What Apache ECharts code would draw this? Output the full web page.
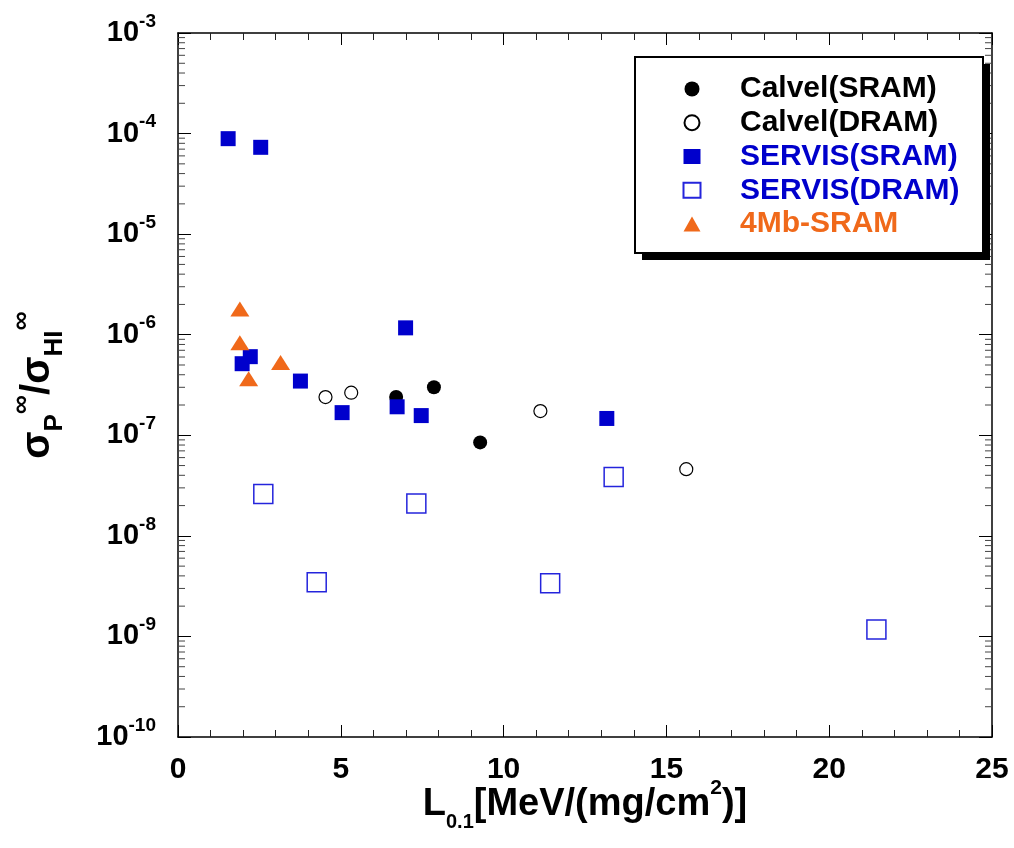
<!DOCTYPE html>
<html>
<head>
<meta charset="utf-8">
<script src="https://cdn.jsdelivr.net/npm/echarts@6/dist/echarts.min.js"></script>
<style>
html,body{margin:0;padding:0;background:#fff;}
#chart{width:1014px;height:848px;}
</style>
</head>
<body>
<div id="chart"></div>
<script>
// ---- Data (x = L0.1 [MeV/(mg/cm2)], y = sigmaP/sigmaHI) ----
const calvelSram = [[6.70, 2.4e-7], [7.86, 3.0e-7], [9.28, 8.5e-8]];
const calvelDram = [[4.53, 2.4e-7], [5.32, 2.65e-7], [11.13, 1.74e-7], [15.61, 4.6e-8]];
const servisSram = [[1.54, 8.9e-5], [2.54, 7.3e-5], [2.22, 6.05e-7], [1.97, 5.15e-7], [3.76, 3.46e-7],
                    [5.04, 1.68e-7], [6.73, 1.92e-7], [7.47, 1.57e-7], [6.99, 1.17e-6], [13.17, 1.47e-7]];
const servisDram = [[2.62, 2.6e-8], [4.26, 3.45e-9], [7.32, 2.1e-8], [11.43, 3.37e-9], [13.38, 3.85e-8], [21.45, 1.17e-9]];
const sram4Mb    = [[1.90, 1.8e-6], [1.90, 8.3e-7], [2.17, 3.65e-7], [3.15, 5.3e-7]];

const seriesNames = ['Calvel(SRAM)', 'Calvel(DRAM)', 'SERVIS(SRAM)', 'SERVIS(DRAM)', '4Mb-SRAM'];
const xTicks = [0, 5, 10, 15, 20, 25];
const yDecadeExponents = [-10, -9, -8, -7, -6, -5, -4, -3];
const minorMultipliers = [2, 3, 4, 5, 6, 7, 8, 9];

const BLUE = '#0000cc';
const BLUE_OPEN = '#2424dc';
const ORANGE = '#f0691a';

// minor tick positions for the log axis (axis decoration only)
const minorTickVals = [];
for (let i = 0; i < yDecadeExponents.length - 1; i++) {
  for (const m of minorMultipliers) minorTickVals.push([xTicks[0], m * Math.pow(10, yDecadeExponents[i])]);
}

const FONT = '"Liberation Sans", Arial, sans-serif';

const chart = echarts.init(document.getElementById('chart'), null, {renderer: 'canvas'});

const yLabelRich = {
  b: {fontFamily: FONT, fontWeight: 'bold', fontSize: 29, lineHeight: 42, color: '#000', verticalAlign: 'middle'},
  s: {fontFamily: FONT, fontWeight: 'bold', fontSize: 19, lineHeight: 20, color: '#000', verticalAlign: 'top'}
};

function makeX(pos, showLabel) {
  return {
    type: 'value', position: pos, min: xTicks[0], max: xTicks[xTicks.length - 1], interval: 5,
    axisLine: {show: true, onZero: false, lineStyle: {color: '#000', width: 1.5}},
    axisTick: {show: true, inside: true, length: 12, lineStyle: {color: '#000', width: 1}},
    minorTick: {show: true, splitNumber: 5, length: 7, lineStyle: {color: '#222', width: 1}},
    splitLine: {show: false}, minorSplitLine: {show: false},
    axisLabel: {show: showLabel, margin: 18, fontFamily: FONT, fontWeight: 'bold', fontSize: 30, color: '#000'},
    name: showLabel ? '{m|L}{sub|0.1}{m|[MeV/(mg/cm}{sup|2}{m|)]}' : '',
    nameLocation: 'middle', nameGap: 41, nameMoveOverlap: false,
    nameTextStyle: {
      rich: {
        m: {fontFamily: FONT, fontWeight: 'bold', fontSize: 38, lineHeight: 54, verticalAlign: 'middle', color: '#000'},
        sub: {fontFamily: FONT, fontWeight: 'bold', fontSize: 20, lineHeight: 20, verticalAlign: 'bottom', color: '#000'},
        sup: {fontFamily: FONT, fontWeight: 'bold', fontSize: 21, lineHeight: 21, verticalAlign: 'top', color: '#000'}
      }
    }
  };
}

function makeY(pos, showLabel) {
  return {
    type: 'log', logBase: 10, position: pos,
    min: Math.pow(10, yDecadeExponents[0]), max: Math.pow(10, yDecadeExponents[yDecadeExponents.length - 1]),
    interval: 1,
    axisLine: {show: true, onZero: false, lineStyle: {color: '#000', width: 1.5}},
    axisTick: {show: true, inside: true, length: 13, lineStyle: {color: '#000', width: 1}},
    splitLine: {show: false},
    axisLabel: {
      show: showLabel, margin: 22,
      formatter: function (v) { return '{b|10}{s|' + Math.round(Math.log10(v)) + '}'; },
      rich: yLabelRich
    },
    name: showLabel ? '{m|σ}{sub|P}{sup|∞}{m|/σ}{sub|HI}{sup|∞}' : '',
    nameLocation: 'middle', nameGap: 110, nameRotate: 90, nameMoveOverlap: false,
    nameTextStyle: {
      rich: {
        m: {fontFamily: FONT, fontWeight: 'bold', fontSize: 40, lineHeight: 60, verticalAlign: 'middle', color: '#000'},
        sub: {fontFamily: FONT, fontWeight: 'bold', fontSize: 26, lineHeight: 26, verticalAlign: 'bottom', color: '#000'},
        sup: {fontFamily: FONT, fontWeight: 'bold', fontSize: 27, lineHeight: 27, verticalAlign: 'top', color: '#000'}
      }
    }
  };
}

const option = {
  backgroundColor: '#fff',
  animation: false,
  grid: {left: 177, right: 22, top: 33, bottom: 111, containLabel: false},
  xAxis: [makeX('bottom', true), makeX('top', false)],
  yAxis: [makeY('left', true), makeY('right', false)],
  graphic: [
    {type: 'rect', z: 3, shape: {x: 642, y: 64, width: 348, height: 196}, style: {fill: '#000'}},
    {type: 'rect', z: 3, shape: {x: 635, y: 57, width: 348, height: 196}, style: {fill: '#fff', stroke: '#000', lineWidth: 2}}
  ],
  legend: {
    z: 5,
    orient: 'vertical', left: 635, top: 58,
    padding: [14, 30, 14, 47.5],
    itemWidth: 17, itemHeight: 15, itemGap: 0,
    backgroundColor: 'transparent', borderWidth: 0,
    textStyle: {fontFamily: FONT, fontWeight: 'bold', fontSize: 30, lineHeight: 33.8, padding: [0, 0, 0, 34.5]},
    data: [
      {name: seriesNames[0], textStyle: {color: '#000'}},
      {name: seriesNames[1], textStyle: {color: '#000'}},
      {name: seriesNames[2], textStyle: {color: BLUE}},
      {name: seriesNames[3], textStyle: {color: BLUE}},
      {name: seriesNames[4], textStyle: {color: ORANGE}}
    ],
    selectedMode: false
  },
  series: [
    {
      name: 'minorTicks', type: 'custom', silent: true, clip: false, z: 1,
      data: minorTickVals,
      renderItem: function (params, api) {
        const v = api.value(1);
        const pL = api.coord([xTicks[0], v]);
        const pR = api.coord([xTicks[xTicks.length - 1], v]);
        const st = {stroke: '#444', lineWidth: 1};
        return {type: 'group', children: [
          {type: 'line', shape: {x1: pL[0], y1: pL[1], x2: pL[0] + 7, y2: pL[1]}, style: st},
          {type: 'line', shape: {x1: pR[0], y1: pR[1], x2: pR[0] - 7, y2: pR[1]}, style: st}
        ]};
      }
    },
    {
      name: seriesNames[0], type: 'scatter', data: calvelSram, symbol: 'circle', symbolSize: 14,
      symbolKeepAspect: true, itemStyle: {color: '#000', opacity: 1}, z: 2
    },
    {
      name: seriesNames[1], type: 'scatter', data: calvelDram, symbol: 'circle', symbolSize: 13,
      symbolKeepAspect: true, itemStyle: {color: '#fff', borderColor: '#000', borderWidth: 1.2, opacity: 1}, z: 2
    },
    {
      name: seriesNames[2], type: 'scatter', data: servisSram, symbol: 'rect', symbolSize: 15,
      symbolKeepAspect: true, itemStyle: {color: BLUE, opacity: 1}, z: 2
    },
    {
      name: seriesNames[3], type: 'scatter', data: servisDram, symbol: 'rect', symbolSize: 19,
      symbolKeepAspect: true, itemStyle: {color: 'rgba(255,255,255,0)', borderColor: BLUE_OPEN, borderWidth: 1.5, opacity: 1}, z: 2
    },
    {
      name: seriesNames[4], type: 'scatter', data: sram4Mb, symbol: 'triangle', symbolSize: [19, 15],
      itemStyle: {color: ORANGE, opacity: 1}, z: 2
    }
  ]
};

chart.setOption(option);
</script>
</body>
</html>
